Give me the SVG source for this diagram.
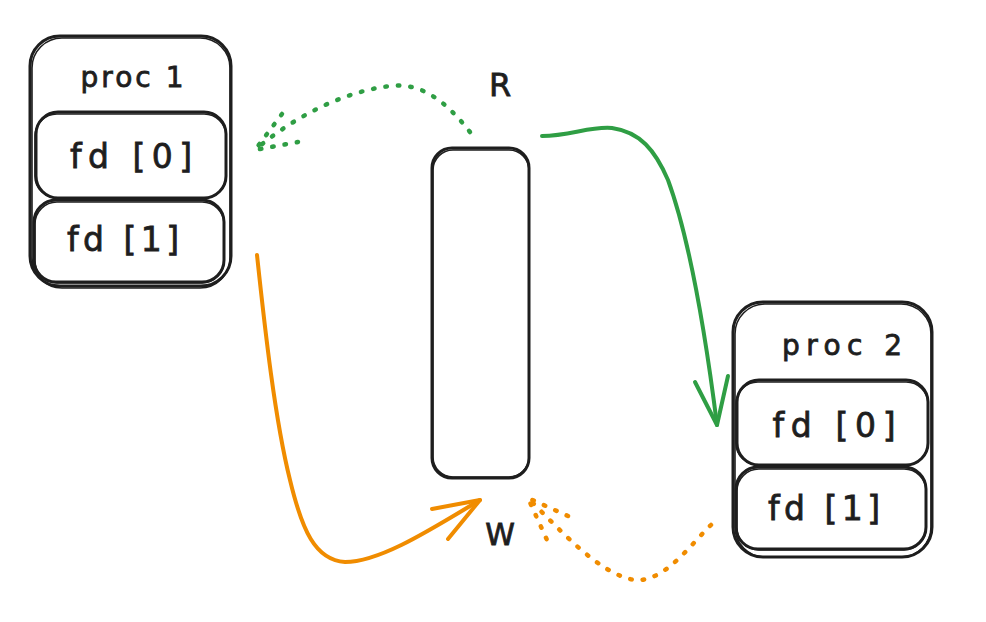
<svg xmlns="http://www.w3.org/2000/svg" width="986" height="622" viewBox="0 0 986 622">
<style>
.box{fill:none;stroke:#1e1e1e;stroke-width:3;stroke-linecap:round;stroke-linejoin:round}
.box2{fill:none;stroke:#1e1e1e;stroke-width:1.6;stroke-linecap:round}
.t{font-family:"DejaVu Sans","Liberation Sans",Arial,sans-serif;fill:#1e1e1e;stroke:#1e1e1e;stroke-width:0.8;text-anchor:middle}
.g{stroke:#2f9e44;fill:none;stroke-linecap:round;stroke-linejoin:round}
.o{stroke:#f08c00;fill:none;stroke-linecap:round;stroke-linejoin:round}
.dot{stroke-width:4.5;stroke-dasharray:1.5 11}
.sol{stroke-width:4}
</style>
<rect width="986" height="622" fill="#ffffff"/>
<g id="proc1">
<rect class="box" x="30" y="36" width="201" height="250" rx="30"/>
<rect class="box2" x="32" y="38" width="198" height="250" rx="30"/>
<text class="t" x="132" y="87" font-size="28" textLength="103" lengthAdjust="spacing">proc 1</text>
</g>
<g id="proc1-fd0">
<rect class="box" x="36" y="112" width="190" height="86" rx="22" fill="#fff"/>
<rect class="box2" x="35" y="114" width="191" height="84" rx="22"/>
<text class="t" x="131" y="168" font-size="33" textLength="122" lengthAdjust="spacing">fd [0]</text>
</g>
<g id="proc1-fd1">
<rect class="box" x="34" y="200" width="190" height="82" rx="22"/>
<rect class="box2" x="35" y="202" width="189" height="81" rx="22"/>
<text class="t" x="123" y="251" font-size="33" textLength="112" lengthAdjust="spacing">fd [1]</text>
</g>
<g id="proc2">
<rect class="box" x="733" y="302" width="199" height="255" rx="30"/>
<rect class="box2" x="735" y="304" width="196" height="253" rx="30"/>
<text class="t" x="842" y="355" font-size="28" textLength="120" lengthAdjust="spacing">proc 2</text>
</g>
<g id="proc2-fd0">
<rect class="box" x="737" y="380" width="191" height="85" rx="22"/>
<rect class="box2" x="736" y="382" width="192" height="83" rx="22"/>
<text class="t" x="834" y="437" font-size="33" textLength="123" lengthAdjust="spacing">fd [0]</text>
</g>
<g id="proc2-fd1">
<rect class="box" x="736" y="467" width="190" height="82" rx="22"/>
<rect class="box2" x="737" y="469" width="189" height="81" rx="22"/>
<text class="t" x="824" y="520" font-size="33" textLength="112" lengthAdjust="spacing">fd [1]</text>
</g>
<g id="pipe">
<rect class="box" x="432" y="148" width="97" height="330" rx="20"/>
<rect class="box2" x="433" y="150" width="96" height="327" rx="20"/>
</g>
<g id="label-R"><text class="t" x="500" y="96" font-size="32">R</text></g>
<g id="label-W"><text class="t" x="500" y="545" font-size="30">W</text></g>
<g id="connectors">
<path class="g dot" d="M470 132 C445 100 420 82 390 86 C340 92 290 120 255 150"/>
<path class="g dot" d="M282 114 L255 150 L298 142"/>
<path class="g sol" d="M542 136 C570 136 590 126 612 128 C640 132 655 150 668 180 C690 240 705 330 717 425"/>
<path class="g sol" d="M695 382 L717 425 L728 376"/>
<path class="o sol" d="M257 255 C265 330 275 420 290 480 C302 530 315 560 345 562 C380 562 430 530 480 500"/>
<path class="o sol" d="M432 509 L480 500 L448 539"/>
<path class="o dot" d="M711 525 C690 545 665 582 635 580 C600 575 560 530 528 498"/>
<path class="o dot" d="M568 516 L528 498 L547 540"/>
</g>
</svg>
